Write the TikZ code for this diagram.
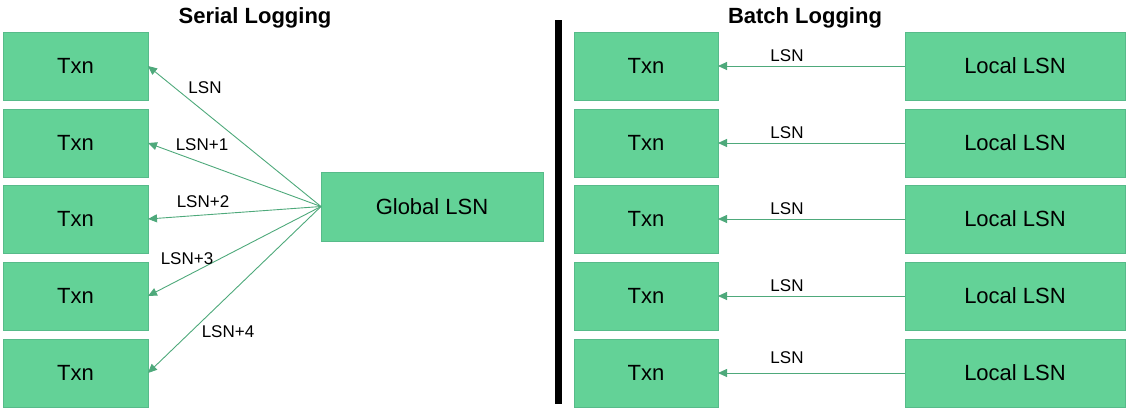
\documentclass[tikz,border=0pt]{standalone}
\usepackage{fontspec}
\setmainfont{Liberation Sans}
\usetikzlibrary{arrows.meta}
\definecolor{boxfill}{HTML}{63D297}
\definecolor{boxdraw}{HTML}{57BB8A}
\definecolor{arrowc}{HTML}{4EA97B}
\begin{document}
\begin{tikzpicture}[x=1pt,y=-1pt,
  box/.style={draw=boxdraw,fill=boxfill,line width=1pt,inner sep=0pt,outer sep=0pt,
    minimum height=68pt,font=\fontsize{22}{26}\selectfont},
  txnbox/.style={box,minimum width=145pt},
  localbox/.style={box,minimum width=220pt},
  conn/.style={draw=arrowc,line width=0.9pt,-{Triangle[length=9pt,width=8pt]}},
  lbl/.style={inner sep=0pt,font=\fontsize{17}{20}\selectfont},
  ttl/.style={inner sep=0pt,font=\fontsize{22}{26}\selectfont\bfseries}]
\useasboundingbox (0,0) rectangle (1128,410);
\node[ttl] (t1) at (255,18) {Serial Logging};
\node[ttl] (t2) at (805,18) {Batch Logging};
\fill[black] (555,20) rectangle (562,404);
\foreach \i/\y in {1/66,2/143,3/219,4/296,5/373}{
  \node[txnbox] (L\i) at (75.5,\y) {Txn};
  \node[txnbox,minimum width=144pt] (R\i) at (646,\y) {Txn};
  \node[localbox] (C\i) at (1015,\y) {Local LSN};
}
\node[box,minimum width=222pt,minimum height=69pt] (G) at (432,206.5) {Global LSN};
\foreach \i in {1,...,5}{
  \draw[conn] (G.west) -- (L\i.east);
  \draw[conn] (C\i.west) -- (R\i.east);
}
\node[lbl] (a1) at (205,88) {LSN};
\node[lbl] (a2) at (202,145) {LSN+1};
\node[lbl] (a3) at (203,202) {LSN+2};
\node[lbl] (a4) at (187,259) {LSN+3};
\node[lbl] (a5) at (228,332) {LSN+4};
\foreach \i/\y in {1/56,2/133,3/209,4/286,5/358}{
  \node[lbl] (b\i) at (787,\y) {LSN};
}
\end{tikzpicture}
\end{document}
